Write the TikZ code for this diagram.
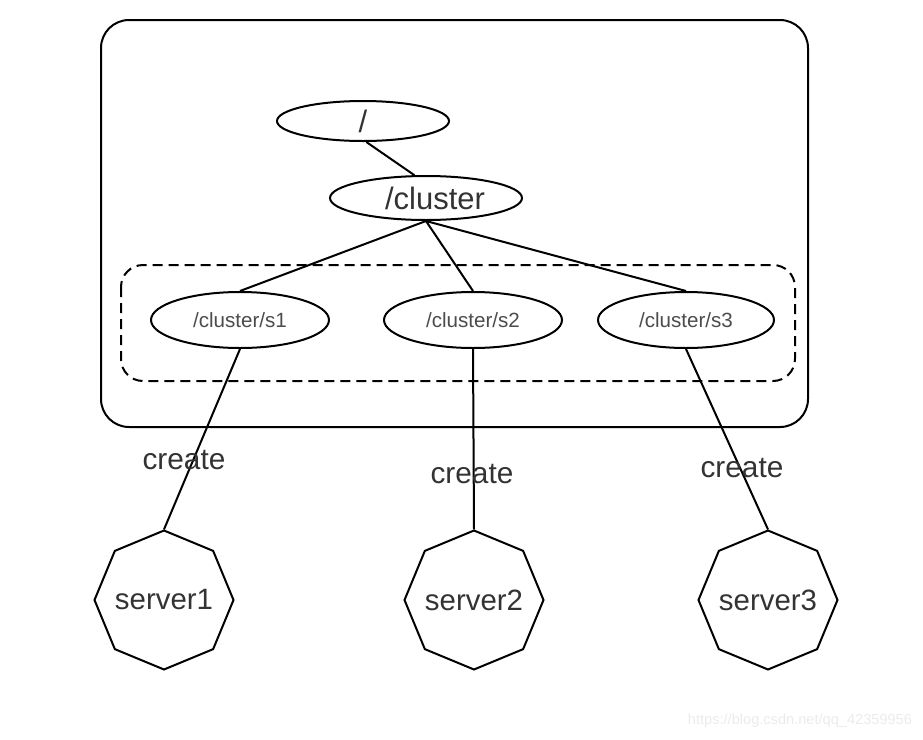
\documentclass[tikz,border=0pt]{standalone}
\usepackage{fontspec}
\setmainfont{Liberation Sans}
\usetikzlibrary{shapes.geometric}

\begin{document}
\begin{tikzpicture}[
  x=0.5pt, y=-0.5pt,
  line width=1pt,
  znode/.style={ellipse, draw, inner sep=0pt, minimum width=89pt, minimum height=28pt, text=black!70, font=\fontsize{10.3}{12}\selectfont},
  topnode/.style={ellipse, draw, inner sep=0pt, text=black!80, font=\fontsize{15.5}{18}\selectfont},
  server/.style={regular polygon, regular polygon sides=8, shape border rotate=22.5, draw, inner sep=-3pt, minimum size=69.5pt, text=black!80, font=\fontsize{14.7}{17}\selectfont},
  lbl/.style={inner sep=0pt, text=black!80, font=\fontsize{14.9}{17}\selectfont}
]
  \useasboundingbox (0,0) rectangle (923,740);
  % frames
  \draw[rounded corners=14pt] (101,20) rectangle (808,427);
  \draw[dash pattern=on 5pt off 3pt, rounded corners=11pt] (121,265) rectangle (795,381);
  % znodes
  \node[topnode, minimum width=86pt, minimum height=20pt] (root) at (363,121) {/};
  \node[topnode, minimum width=96pt, minimum height=22pt] (cluster) at (426,198) {\hspace{9pt}/cluster};
  \node[znode] (s1) at (240,320) {/cluster/s1};
  \node[znode] (s2) at (473,320) {/cluster/s2};
  \node[znode, minimum width=88pt] (s3) at (686,320) {/cluster/s3};
  % servers
  \node[server] (server1) at (164,600) {server1};
  \node[server] (server2) at (474,600) {server2};
  \node[server] (server3) at (768,600) {server3};
  \draw (root.-81) -- (cluster.117);
  \draw (cluster.south) -- (s1.north) (cluster.south) -- (s2.north) (cluster.south) -- (s3.north);
  \draw (s1.south) -- (server1.north) (s2.south) -- (server2.north) (s3.south) -- (server3.north);
  \node[lbl] (c1) at (184,460) {create};
  \node[lbl] (c2) at (472,474) {create};
  \node[lbl] (c3) at (742,468) {create};
  \node[anchor=east, inner sep=0pt, text=black!8, font=\fontsize{7.3}{9}\selectfont] (mark) at (913,721) {https://blog.csdn.net/qq\_42359956};
\end{tikzpicture}
\end{document}
